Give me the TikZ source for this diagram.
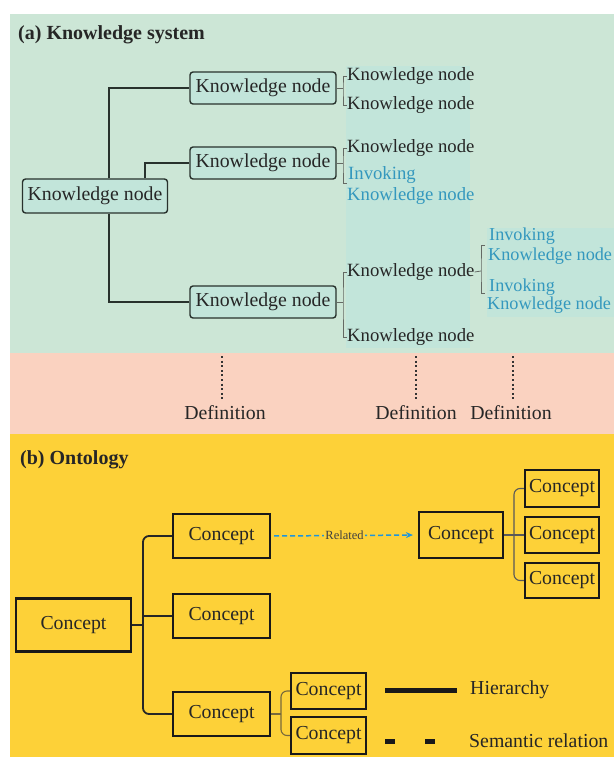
\documentclass[tikz,border=0pt]{standalone}
\usepackage{fontspec}
\setmainfont{Liberation Serif}
\usetikzlibrary{arrows.meta}
\definecolor{bgG}{RGB}{204,230,214}
\definecolor{bgT}{RGB}{194,229,218}
\definecolor{bgP}{RGB}{250,210,192}
\definecolor{bgY}{RGB}{253,209,56}
\definecolor{tealtx}{RGB}{52,152,190}
\definecolor{arrblue}{RGB}{30,150,220}
\definecolor{kdark}{RGB}{40,50,45}
\definecolor{brkcol}{RGB}{100,105,100}
\definecolor{ebrown}{RGB}{120,105,60}
\tikzset{
  kbox/.style={draw=kdark, line width=1.4pt, rounded corners=3pt, fill=bgT, inner sep=0pt, text=black!85},
  ktext/.style={anchor=west, inner sep=0pt, text=black!85, font=\fontsize{18.7}{22}\selectfont},
  itext/.style={anchor=west, inner sep=0pt, text=tealtx, font=\fontsize{18.7}{22}\selectfont},
  rtext/.style={anchor=west, inner sep=0pt, text=tealtx, font=\fontsize{18.2}{22}\selectfont},
  kline/.style={draw=kdark, line width=1.5pt},
  brk/.style={draw=brkcol, line width=0.8pt},
  dline/.style={draw=black!80, line width=2.2pt, dash pattern=on 2pt off 2.6pt},
  cbox/.style={draw=black!90, line width=2.2pt, fill=bgY, inner sep=0pt, text=black!85},
  oline/.style={draw=black!85, line width=1.8pt, rounded corners=6pt},
  dline2/.style={draw=black!65, line width=1.1pt, rounded corners=6pt},
  eline/.style={draw=ebrown, line width=1.1pt, rounded corners=6pt},
  ttl/.style={anchor=west, inner sep=0pt, font=\fontsize{20}{24}\selectfont\bfseries, text=black!85},
}
\begin{document}
\begin{tikzpicture}[x=1pt, y=-1pt, font=\fontsize{19.8}{23}\selectfont]
\useasboundingbox (0,0) rectangle (614,759);
\begin{scope}
\clip (0,0) rectangle (614,759);
\fill[white] (0,0) rectangle (614,759);
\fill[bgG] (10,14) rectangle (614,353);
\fill[bgT] (346,66) rectangle (470,348);
\fill[bgT] (487,228) rectangle (614,317);
\fill[bgP] (10,353) rectangle (614,434);
\fill[bgY] (10,434) rectangle (614,757);

% ---------- (a) ----------
\node[ttl] (ta) at (18,35) {(a) Knowledge system};

\node[kbox, minimum width=145pt, minimum height=34pt] (r) at (95,196) {Knowledge node};
\node[kbox, minimum width=146pt, minimum height=32pt] (A1) at (263,88) {Knowledge node};
\node[kbox, minimum width=146pt, minimum height=32pt] (A2) at (263,163) {Knowledge node};
\node[kbox, minimum width=146pt, minimum height=32pt] (A3) at (263,302) {Knowledge node};

\draw[kline] ([xshift=14pt]r.north) |- (A1.west);
\draw[kline] ([xshift=50pt]r.north) |- (A2.west);
\draw[kline] ([xshift=14pt]r.south) |- (A3.west);

\node[ktext] (k11) at (347,76) {Knowledge node};
\node[ktext] (k12) at (347,105) {Knowledge node};
\coordinate (b1) at (343,88);
\draw[brk] (A1.east) -- (b1);
\draw[brk] (k11.west) -| (b1) |- (k12.west);

\node[ktext] (k21) at (347,148) {Knowledge node};
\node[itext] (i21) at (348,175) {Invoking};
\node[itext] (k22) at (347,196) {Knowledge node};
\coordinate (b2) at (343,163);
\coordinate (b2e) at (347,183);
\draw[brk] (A2.east) -- (b2);
\draw[brk] (k21.west) -| (b2) |- (b2e);

\node[ktext] (k31) at (347,272) {Knowledge node};
\node[ktext] (k32) at (347,337) {Knowledge node};
\coordinate (b3) at (343,302);
\draw[brk] (A3.east) -- (b3);
\draw[brk] (k31.west) -| (b3) |- (k32.west);

\node[rtext] (i41) at (489,236) {Invoking};
\node[rtext] (k41) at (488,256) {Knowledge node};
\node[rtext] (i42) at (489,287) {Invoking};
\node[rtext] (k42) at (487,305) {Knowledge node};
\coordinate (b4) at (481,271);
\coordinate (b4t) at (485,245);
\coordinate (b4b) at (485,293);
\draw[brk] (k31.east) -- (b4);
\draw[brk] (b4t) -| (b4) |- (b4b);

% ---------- definitions ----------
\node[inner sep=0pt, text=black!85] (d1) at (225,413) {Definition};
\node[inner sep=0pt, text=black!85] (d2) at (416,413) {Definition};
\node[inner sep=0pt, text=black!85] (d3) at (511,413) {Definition};
\coordinate (t1) at (222,356); \coordinate (u1) at (222,400);
\coordinate (t2) at (416,356); \coordinate (u2) at (416,400);
\coordinate (t3) at (513,356); \coordinate (u3) at (513,400);
\draw[dline] (t1) -- (u1);
\draw[dline] (t2) -- (u2);
\draw[dline] (t3) -- (u3);

% ---------- (b) ----------
\node[ttl] (tb) at (20,460) {(b) Ontology};

\node[cbox, minimum width=115pt, minimum height=53pt] (R0) at (73.5,625) {Concept};
\node[cbox, minimum width=97pt, minimum height=44pt] (B1) at (221.5,536) {Concept};
\node[cbox, minimum width=97pt, minimum height=44pt] (B2) at (221.5,616) {Concept};
\node[cbox, minimum width=97pt, minimum height=44pt] (B3) at (221.5,714) {Concept};
\node[cbox, minimum width=84pt, minimum height=46pt] (C) at (461,535) {Concept};
\node[cbox, minimum width=74pt, minimum height=37pt] (D1) at (562,488.5) {Concept};
\node[cbox, minimum width=74pt, minimum height=36pt] (D2) at (562,535) {Concept};
\node[cbox, minimum width=74pt, minimum height=35pt] (D3) at (562,580.5) {Concept};
\node[cbox, minimum width=75pt, minimum height=36pt] (E1) at (328.5,691) {Concept};
\node[cbox, minimum width=75pt, minimum height=37pt] (E2) at (328.5,735.5) {Concept};

\coordinate (j0) at (143,625);
\draw[oline] (R0.east) -- (j0);
\draw[oline] (B1.west) -| (j0);
\draw[oline] (B3.west) -| (j0);
\draw[oline] (B2.west) -- (B2.west -| j0);

\coordinate (j1) at (514,535);
\draw[dline2] (C.east) -- (j1);
\draw[dline2] (D1.west) -| (j1);
\draw[dline2] (D3.west) -| (j1);
\draw[dline2] (D2.west) -- (j1);

\coordinate (j2) at (281,714);
\draw[eline] (B3.east) -- (j2);
\draw[eline] (E1.west) -| (j2);
\draw[eline] (E2.west) -| (j2);

\draw[draw=arrblue, line width=1.5pt, dash pattern=on 5pt off 3pt, -{Stealth[length=7pt,width=6pt]}, shorten <=3pt, shorten >=5pt]
  (B1.east) -- node[fill=bgY, inner sep=1pt, text=black!75, font=\fontsize{12.5}{14}\selectfont] (rel) {Related} (C.west);

% legend
\coordinate (l1) at (385,690); \coordinate (l2) at (457,690);
\draw[black!90, line width=5pt] (l1) -- (l2);
\node[ktext, font=\fontsize{19.8}{23}\selectfont] (h) at (470,690) {Hierarchy};
\coordinate (l3) at (385,741); \coordinate (l4) at (436,741);
\draw[black!90, line width=5pt, dash pattern=on 10pt off 30pt] (l3) -- (l4);
\node[ktext, font=\fontsize{19.8}{23}\selectfont] (s) at (469,741) {Semantic relation};
\end{scope}
\end{tikzpicture}
\end{document}
